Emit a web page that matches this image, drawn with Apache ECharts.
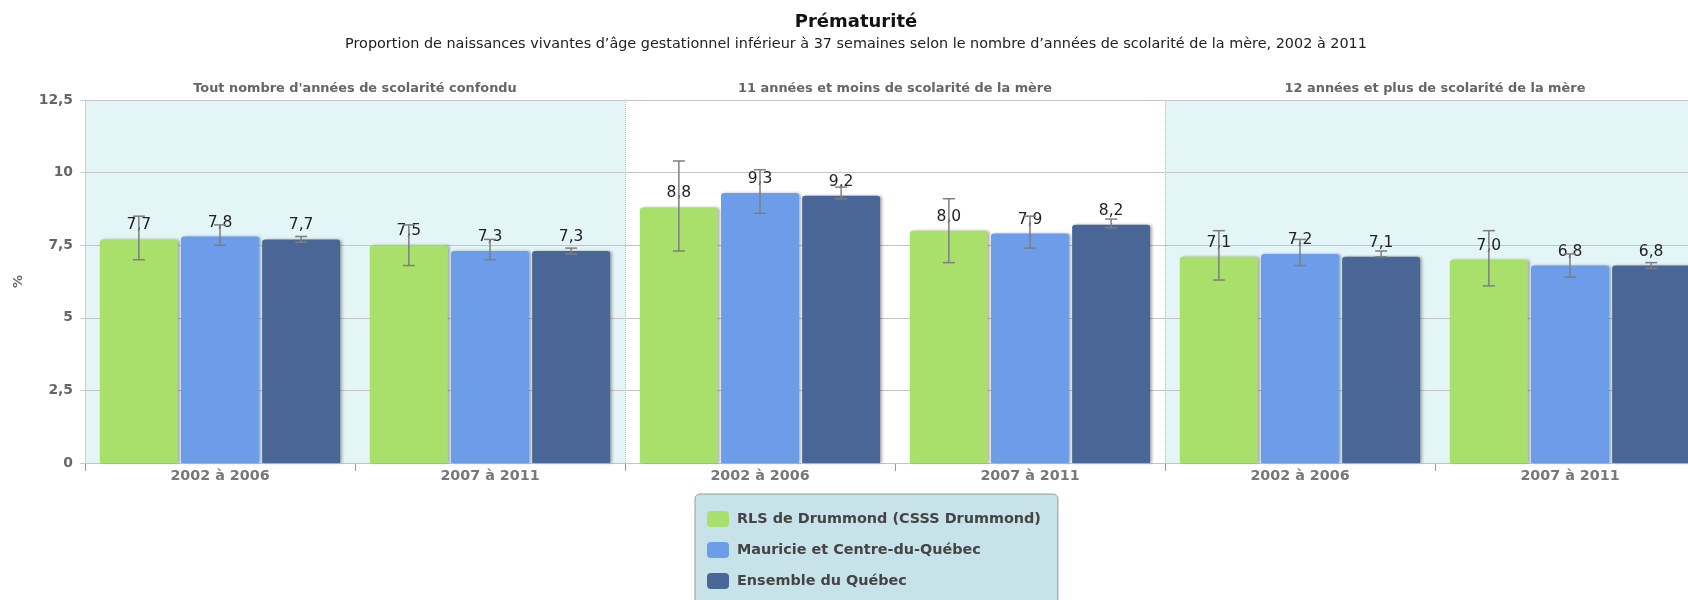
<!DOCTYPE html>
<html>
<head>
<meta charset="utf-8">
<script src="https://cdn.jsdelivr.net/npm/echarts@6/dist/echarts.min.js"></script>
<style>
  html, body { margin: 0; padding: 0; background: #fff; overflow: hidden; }
  /* plot runs past the right edge of the window, as in the original */
  #chart { width: 1705px; height: 600px; }
</style>
</head>
<body>
<div id="chart"></div>
<script>
// categories
const periods = ['2002 à 2006', '2007 à 2011', '2002 à 2006', '2007 à 2011', '2002 à 2006', '2007 à 2011']
const groups = [
  "Tout nombre d'années de scolarité confondu",
  '11 années et moins de scolarité de la mère',
  '12 années et plus de scolarité de la mère'
]
const seriesNames = ['RLS de Drummond (CSSS Drummond)', 'Mauricie et Centre-du-Québec', 'Ensemble du Québec']

// values (%) and confidence bounds
const drummond = [7.7, 7.5, 8.8, 8.0, 7.1, 7.0]
const drummondLow = [7.0, 6.8, 7.3, 6.9, 6.3, 6.1]
const drummondHigh = [8.5, 8.2, 10.4, 9.1, 8.0, 8.0]

const mauricie = [7.8, 7.3, 9.3, 7.9, 7.2, 6.8]
const mauricieLow = [7.5, 7.0, 8.6, 7.4, 6.8, 6.4]
const mauricieHigh = [8.2, 7.7, 10.1, 8.5, 7.7, 7.2]

const quebec = [7.7, 7.3, 9.2, 8.2, 7.1, 6.8]
const quebecLow = [7.6, 7.2, 9.1, 8.1, 7.1, 6.7]
const quebecHigh = [7.8, 7.4, 9.5, 8.4, 7.3, 6.9]

const colors = ['#a9e06b', '#6d9ce9', '#4a6696']
const catGap = 0.11
const barGap = 0.04
const fontFamily = 'DejaVu Sans'

const chart = echarts.init(document.getElementById('chart'))

function fmt(v) {
  return v.toFixed(1).replace('.', ',')
}

function barSeries(name, values, color) {
  return {
    name: name,
    type: 'bar',
    data: values,
    barCategoryGap: (catGap * 100) + '%',
    barGap: (barGap * 100) + '%',
    itemStyle: {
      color: color,
      borderRadius: [3, 3, 0, 0],
      shadowColor: 'rgba(0,0,0,0.3)',
      shadowBlur: 3,
      shadowOffsetX: 2
    },
    label: {
      show: true,
      position: 'top',
      distance: 6,
      color: '#222',
      fontFamily: fontFamily,
      fontSize: 15.5,
      formatter: function(p) { return fmt(p.value) }
    },
    z: 2
  }
}

function errorSeries(idx, low, high) {
  var data = []
  for (var i = 0; i < low.length; i++) {
    data.push([i, low[i], high[i]])
  }
  return {
    type: 'custom',
    name: seriesNames[idx] + ' IC',
    data: data,
    z: 5,
    silent: true,
    encode: { x: 0, y: [1, 2] },
    renderItem: function(params, api) {
      var cat = api.value(0)
      var lo = api.coord([cat, api.value(1)])
      var hi = api.coord([cat, api.value(2)])
      // same bar layout as the bar series, to sit on the middle of each bar
      var band = api.size([1, 0])[0]
      var bw = band * (1 - catGap) / (3 + 2 * barGap)
      var total = 3 * bw + 2 * bw * barGap
      var x = lo[0] - total / 2 + idx * bw * (1 + barGap) + bw / 2
      var cap = 6
      var style = { stroke: '#7e7e7e', lineWidth: 1.5 }
      return {
        type: 'group',
        children: [
          { type: 'line', shape: { x1: x, y1: lo[1], x2: x, y2: hi[1] }, style: style },
          { type: 'line', shape: { x1: x - cap, y1: hi[1], x2: x + cap, y2: hi[1] }, style: style },
          { type: 'line', shape: { x1: x - cap, y1: lo[1], x2: x + cap, y2: lo[1] }, style: style }
        ]
      }
    }
  }
}

chart.setOption({
  animation: false,
  color: colors,
  title: {
    left: 851,
    textAlign: 'center',
    top: 6,
    text: 'Prématurité',
    subtext: "Proportion de naissances vivantes d’âge gestationnel inférieur à 37 semaines selon le nombre d’années de scolarité de la mère, 2002 à 2011",
    itemGap: 3,
    textStyle: { fontFamily: fontFamily, fontSize: 18, fontWeight: 'bold', color: '#111', lineHeight: 22 },
    subtextStyle: { fontFamily: fontFamily, fontSize: 14.4, color: '#222', lineHeight: 17 }
  },
  legend: {
    orient: 'vertical',
    left: 695,
    top: 494,
    height: 100,
    data: seriesNames,
    icon: 'roundRect',
    itemWidth: 22,
    itemHeight: 16,
    itemGap: 15,
    padding: [17, 17, 17, 12],
    backgroundColor: '#c8e2e9',
    borderColor: '#999',
    borderWidth: 1,
    borderRadius: 5,
    textStyle: { fontFamily: fontFamily, fontSize: 14.4, fontWeight: 'bold', color: '#444', padding: [0, 0, 0, 3] }
  },
  grid: {
    left: 85,
    right: 0,
    top: 100,
    bottom: 137
  },
  xAxis: [{
    type: 'category',
    data: periods,
    position: 'bottom',
    axisLine: { lineStyle: { color: '#c0d0e0' } },
    axisTick: { show: true, interval: 0, length: 8, lineStyle: { color: '#999' } },
    axisLabel: { interval: 0, margin: 6, fontFamily: fontFamily, fontSize: 14.3, fontWeight: 'bold', color: '#777' },
    splitLine: {
      show: true,
      interval: function(i) { return i % 2 === 1 },
      lineStyle: { color: '#c4c4c4' }
    }
  }, {
    type: 'category',
    data: groups,
    position: 'top',
    axisLine: { show: false },
    axisTick: { show: false },
    axisLabel: { interval: 0, margin: 5, fontFamily: fontFamily, fontSize: 12.9, fontWeight: 'bold', color: '#666' },
    splitArea: { show: true, areaStyle: { color: ['#e3f5f6', '#ffffff'] } },
    splitLine: { show: true, lineStyle: { color: '#a8bcd4', type: 'dotted' } }
  }],
  yAxis: {
    type: 'value',
    min: 0,
    max: 12.5,
    interval: 2.5,
    name: '%',
    nameLocation: 'middle',
    nameGap: 60,
    nameTextStyle: { fontFamily: fontFamily, fontSize: 13, fontWeight: 'bold', color: '#666' },
    z: 1,
    axisLine: { show: true, lineStyle: { color: '#c0d0e0' } },
    axisTick: { show: true, length: 5, lineStyle: { color: '#c0d0e0' } },
    axisLabel: {
      margin: 12,
      fontFamily: fontFamily,
      fontSize: 13.9,
      fontWeight: 'bold',
      color: '#666',
      formatter: function(v) { return String(v).replace('.', ',') }
    },
    splitLine: { lineStyle: { color: '#c4c4c4' } }
  },
  series: [
    barSeries(seriesNames[0], drummond, colors[0]),
    barSeries(seriesNames[1], mauricie, colors[1]),
    barSeries(seriesNames[2], quebec, colors[2]),
    errorSeries(0, drummondLow, drummondHigh),
    errorSeries(1, mauricieLow, mauricieHigh),
    errorSeries(2, quebecLow, quebecHigh)
  ]
})
</script>
</body>
</html>
